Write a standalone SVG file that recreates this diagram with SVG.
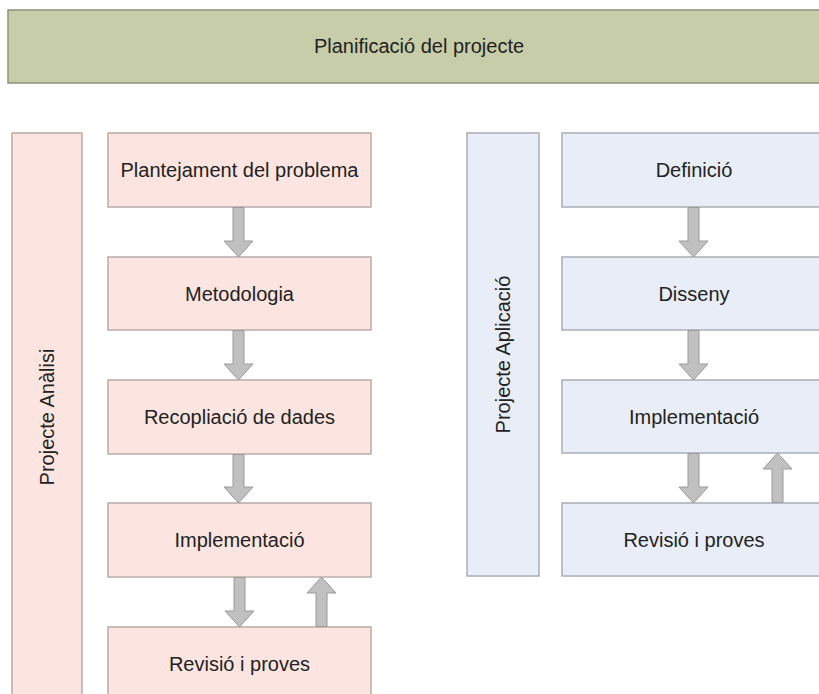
<svg xmlns="http://www.w3.org/2000/svg" width="819" height="694" viewBox="0 0 819 694">
<style>
text{font-family:"Liberation Sans",Arial,sans-serif;font-size:20px;fill:#222;text-anchor:middle;dominant-baseline:central}
.pink{fill:#fce5e0;stroke:#b8aca9;stroke-width:1.5}
.blue{fill:#e8edf7;stroke:#a8adb6;stroke-width:1.5}
.top{fill:#c7cda8;stroke:#8c9279;stroke-width:1.5}
.arr{fill:#c0c0c0;stroke:#9a9a9a;stroke-width:1}
</style>
<rect width="819" height="694" fill="#ffffff"/>
<g id="planificacio">
<rect class="top" x="8" y="10" width="822" height="73"/>
<text x="419" y="46">Planificació del projecte</text>
</g>
<g id="projecte-analisi">
<rect class="pink" x="12" y="133" width="70" height="575"/>
<text transform="rotate(-90 47 417)" x="47" y="417">Projecte Anàlisi</text>
</g>
<g id="plantejament">
<rect class="pink" x="108" y="133" width="263" height="74"/>
<text x="239.5" y="170">Plantejament del problema</text>
</g>
<g id="metodologia">
<rect class="pink" x="108" y="257" width="263" height="73"/>
<text x="239.5" y="293.5">Metodologia</text>
</g>
<g id="recopliacio">
<rect class="pink" x="108" y="380" width="263" height="74"/>
<text x="239.5" y="417">Recopliació de dades</text>
</g>
<g id="implementacio-a">
<rect class="pink" x="108" y="503" width="263" height="74"/>
<text x="239.5" y="540">Implementació</text>
</g>
<g id="revisio-a">
<rect class="pink" x="108" y="627" width="263" height="80"/>
<text x="239.5" y="664">Revisió i proves</text>
</g>
<g id="projecte-aplicacio">
<rect class="blue" x="467" y="133" width="72" height="443"/>
<text transform="rotate(-90 503 354.5)" x="503" y="354.5">Projecte Aplicació</text>
</g>
<g id="definicio">
<rect class="blue" x="562" y="133" width="265" height="74"/>
<text x="694" y="170">Definició</text>
</g>
<g id="disseny">
<rect class="blue" x="562" y="257" width="265" height="73"/>
<text x="694" y="293.5">Disseny</text>
</g>
<g id="implementacio-b">
<rect class="blue" x="562" y="380" width="265" height="73"/>
<text x="694" y="416.5">Implementació</text>
</g>
<g id="revisio-b">
<rect class="blue" x="562" y="503" width="265" height="73"/>
<text x="694" y="539.5">Revisió i proves</text>
</g>
<g id="connectors">
<path class="arr" d="M233 207.5 H244 V241 H253 L238.5 257 L224 241 H233 Z"/>
<path class="arr" d="M233 330.5 H244 V364 H253 L238.5 380 L224 364 H233 Z"/>
<path class="arr" d="M233 454.5 H244 V487 H253 L238.5 503 L224 487 H233 Z"/>
<path class="arr" d="M234 577.5 H245 V611 H254 L239.5 627 L225 611 H234 Z"/>
<path class="arr" d="M316 626.5 H327 V593 H336 L321.5 577 L307 593 H316 Z"/>
<path class="arr" d="M688 207.5 H699 V241 H708 L693.5 257 L679 241 H688 Z"/>
<path class="arr" d="M688 330.5 H699 V364 H708 L693.5 380 L679 364 H688 Z"/>
<path class="arr" d="M688 453.5 H699 V487 H708 L693.5 503 L679 487 H688 Z"/>
<path class="arr" d="M772 502.5 H783 V469 H792 L777.5 453 L763 469 H772 Z"/>
</g>
</svg>
